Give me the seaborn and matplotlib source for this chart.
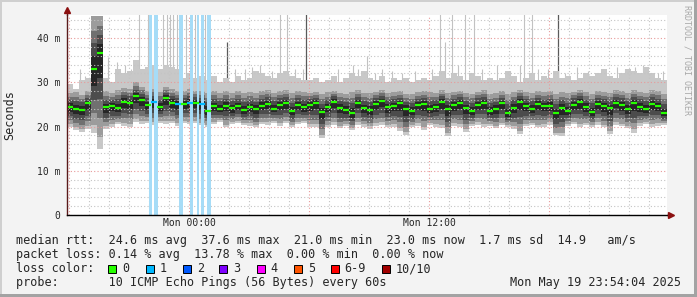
import numpy as np
import pandas as pd
import matplotlib
matplotlib.use("Agg")
import matplotlib.pyplot as plt
import matplotlib.dates as mdates
from matplotlib.patches import Rectangle
from matplotlib.ticker import MultipleLocator, FixedLocator, FuncFormatter
import seaborn as sns

# ---------------- data ----------------
start_time = "2025-05-18 17:54"
step_minutes = 18

median_ms = [24.5, 24.0, 23.8, 25.2, 33.0, 36.5, 24.3, 24.6, 24.2, 25.6, 25.3, 26.8, 26.0, 24.8, 25.6, 24.5, 26.4, 25.4, 25.0, 25.1,
             25.4, 25.3, 25.0, 23.6, 24.6, 24.0, 24.7, 24.1, 24.6, 23.8, 24.3, 23.9, 24.7, 25.1, 24.0, 24.9, 25.2, 23.4, 24.8, 24.3,
             24.8, 25.3, 23.2, 24.4, 25.6, 24.2, 23.7, 23.0, 25.4, 24.1, 23.8, 25.0, 25.7, 24.3, 24.6, 25.2, 24.0, 23.6, 24.9, 25.1,
             24.0, 24.4, 25.5, 24.0, 24.8, 25.3, 24.1, 23.6, 24.9, 25.4, 23.5, 23.9, 25.2, 23.0, 24.2, 25.6, 24.6, 24.0, 25.1, 24.6,
             24.7, 23.0, 24.2, 23.5, 24.9, 25.5, 24.4, 23.3, 25.0, 24.6, 24.1, 25.4, 24.8, 24.0, 25.2, 24.5, 23.9, 25.1, 24.6, 23.0]

min_ms = [20.0, 19.2, 18.8, 19.5, 18.5, 15.0, 19.5, 20.0, 20.5, 20.2, 20.0, 21.0, 20.6, 20.8, 20.3, 20.9, 20.5, 20.8, 20.2, 20.7,
          20.5, 20.8, 20.3, 20.0, 20.6, 21.0, 19.8, 20.5, 20.9, 20.4, 20.2, 19.8, 20.6, 20.4, 20.9, 20.2, 20.7, 19.9, 20.5, 20.8,
          20.0, 19.8, 17.5, 19.9, 20.3, 19.6, 20.1, 19.2, 20.4, 20.0, 19.5, 20.2, 20.3, 19.8, 20.0, 19.0, 18.0, 19.8, 20.2, 19.3,
          20.3, 20.0, 19.7, 17.8, 20.2, 19.8, 18.8, 20.1, 20.4, 19.9, 20.2, 19.6, 20.3, 20.0, 19.5, 18.2, 20.1, 20.4, 19.8, 20.0,
          20.4, 18.0, 17.8, 20.2, 20.5, 19.9, 20.3, 20.0, 20.4, 19.8, 18.2, 20.3, 20.1, 19.7, 18.6, 20.2, 20.5, 19.9, 20.2, 20.4]

upper_ms = [27.5, 27.8, 27.2, 28.0, 45.0, 45.0, 28.0, 27.5, 28.2, 28.8, 28.5, 30.0, 29.0, 28.0, 28.5, 27.8, 29.0, 28.5, 28.0, 28.0,
            28.5, 28.0, 28.0, 27.5, 28.0, 27.5, 28.0, 27.5, 28.0, 27.6, 27.8, 27.5, 28.0, 28.2, 27.6, 28.0, 28.2, 27.5, 28.0, 27.8,
            27.6, 27.9, 27.3, 27.7, 28.1, 27.5, 27.4, 27.8, 28.2, 27.6, 27.5, 27.9, 28.3, 27.6, 27.8, 28.0, 27.4, 27.3, 27.8, 28.0,
            27.7, 27.6, 28.2, 27.5, 27.9, 28.1, 27.6, 27.4, 27.9, 28.2, 27.4, 27.5, 28.0, 27.3, 27.7, 28.3, 27.8, 27.5, 28.0, 27.7,
            28.0, 27.4, 27.7, 27.5, 27.9, 28.3, 27.8, 27.4, 28.1, 27.8, 27.6, 28.2, 28.0, 27.5, 28.2, 27.9, 27.6, 28.3, 28.0, 27.4]

max_ms = [29.5, 28.5, 30.5, 31.0, 45.0, 45.0, 31.0, 30.0, 33.0, 32.0, 32.5, 35.0, 33.0, 33.5, 34.0, 33.0, 34.0, 33.5, 33.0, 31.0,
          32.0, 31.0, 31.5, 30.5, 31.5, 30.0, 31.0, 30.0, 31.5, 30.5, 31.0, 32.5, 32.0, 31.5, 31.0, 32.0, 32.5, 31.5, 31.0, 30.5,
          30.5, 31.0, 30.0, 30.5, 31.5, 30.0, 31.0, 32.0, 31.5, 32.5, 31.0, 30.5, 31.5, 30.0, 31.0, 30.5, 31.0, 30.0, 30.5, 31.0,
          30.5, 31.5, 32.5, 31.0, 32.0, 31.5, 30.5, 32.0, 31.5, 30.5, 31.0, 30.5, 31.0, 32.5, 31.5, 30.0, 31.0, 32.0, 30.5, 31.5,
          31.0, 32.5, 31.0, 31.5, 30.5, 31.0, 32.0, 31.5, 32.0, 33.0, 31.5, 31.0, 32.0, 33.0, 32.5, 32.0, 33.5, 32.0, 31.0, 30.5]

median_loss = [0, 0, 0, 0, 0, 0, 0, 0, 0, 0, 0, 0, 0, 0, 1, 0, 0, 0, 1, 0,
               1, 0, 1, 0, 0, 0, 0, 0, 0, 0, 0, 0, 0, 0, 0, 0, 0, 0, 0, 0,
               0, 0, 0, 0, 0, 0, 0, 0, 0, 0, 0, 0, 0, 0, 0, 0, 0, 0, 0, 0,
               0, 0, 0, 0, 0, 0, 0, 0, 0, 0, 0, 0, 0, 0, 0, 0, 0, 0, 0, 0,
               0, 0, 0, 0, 0, 0, 0, 0, 0, 0, 0, 0, 0, 0, 0, 0, 0, 0, 0, 0]

spike_times = ["2025-05-18 18:33", "2025-05-18 18:48", "2025-05-18 19:57", "2025-05-18 20:24",
               "2025-05-18 20:48", "2025-05-18 21:06", "2025-05-18 21:30", "2025-05-18 21:57",
               "2025-05-18 22:42", "2025-05-18 22:54", "2025-05-18 23:03", "2025-05-18 23:12",
               "2025-05-18 23:24", "2025-05-18 23:51", "2025-05-19 00:18", "2025-05-19 00:48",
               "2025-05-19 02:18", "2025-05-19 02:48", "2025-05-19 03:09", "2025-05-19 03:33",
               "2025-05-19 04:09", "2025-05-19 04:33", "2025-05-19 04:54", "2025-05-19 05:18",
               "2025-05-19 05:42", "2025-05-19 07:27", "2025-05-19 08:12", "2025-05-19 08:27",
               "2025-05-19 08:39", "2025-05-19 08:54", "2025-05-19 09:18", "2025-05-19 09:39",
               "2025-05-19 10:09", "2025-05-19 10:39", "2025-05-19 11:18", "2025-05-19 12:09",
               "2025-05-19 12:33", "2025-05-19 12:48", "2025-05-19 13:09", "2025-05-19 13:27",
               "2025-05-19 13:48", "2025-05-19 14:15", "2025-05-19 14:39", "2025-05-19 15:24",
               "2025-05-19 16:03", "2025-05-19 16:33", "2025-05-19 16:45", "2025-05-19 17:09",
               "2025-05-19 17:27", "2025-05-19 17:57", "2025-05-19 18:48", "2025-05-19 19:24",
               "2025-05-19 19:57", "2025-05-19 20:42", "2025-05-19 21:24", "2025-05-19 21:48",
               "2025-05-19 22:18", "2025-05-19 22:42", "2025-05-19 22:57", "2025-05-19 23:27",
               "2025-05-19 23:42"]
spike_ms = [33, 31.5, 35.7, 34.6, 34, 33, 46, 46,
            46, 46, 46, 46, 46, 46, 46, 46,
            33, 33, 33.5, 34, 32.5, 46, 46, 33,
            33, 33, 34, 33, 32, 36, 32, 33,
            32.5, 32, 32.5, 33, 46, 39, 46, 34,
            46, 46, 33, 34, 32.5, 34, 46, 46,
            33, 33, 32, 33.5, 32.5, 33, 33.5, 33,
            33.5, 34, 33, 32, 32.5]
dark_spike_times = ["2025-05-19 00:06", "2025-05-19 01:54", "2025-05-19 05:51", "2025-05-19 18:27"]
dark_spike_ms = [38, 39, 46, 46]

loss_times = ["2025-05-18 22:00", "2025-05-18 22:15", "2025-05-18 23:30", "2025-05-19 00:03",
              "2025-05-19 00:24", "2025-05-19 00:36", "2025-05-19 00:54"]
loss_minutes = [9, 12, 12, 9, 6, 9, 12]

y_ticks = [0, 10, 20, 30, 40]
y_tick_labels = ["0", "10 m", "20 m", "30 m", "40 m"]

loss_legend_labels = ["0", "1", "2", "3", "4", "5", "6-9", "10/10"]
loss_legend_colors = ["#26ff00", "#00b8ff", "#0059ff", "#7e00ff", "#ff00ff", "#ff5500", "#ff0000", "#a10000"]

line_rtt = "median rtt:  24.6 ms avg  37.6 ms max  21.0 ms min  23.0 ms now  1.7 ms sd  14.9   am/s"
line_loss = "packet loss: 0.14 % avg  13.78 % max  0.00 % min  0.00 % now"
line_probe = "probe:       10 ICMP Echo Pings (56 Bytes) every 60s"
stamp = "Mon May 19 23:54:04 2025"

# ---------------- figure ----------------
sns.set_style("white")
plt.rcParams["font.family"] = ["DejaVu Sans Mono", "DejaVu Sans"]

W, H = 697, 297
fig = plt.figure(figsize=(W / 100, H / 100), dpi=100, facecolor="#f3f3f3")


def fx(x):
    return x / W


def fy(y):
    return 1 - y / H


ax = fig.add_axes([fx(67), fy(215), 600 / W, 200 / H])
ax.set_facecolor("white")

times = pd.date_range(start_time, periods=len(median_ms), freq=f"{step_minutes}min")
t0 = mdates.date2num(times)
wd = step_minutes / 1440.0
t_edges = np.append(t0, t0[-1] + wd)

med = np.array(median_ms)
mn = np.array(min_ms)
up = np.array(upper_ms)
mx = np.array(max_ms)

# single-ping spikes drawn behind the smoke
ax.vlines(mdates.date2num(pd.to_datetime(spike_times)), 22, spike_ms, color="#c2c2c2", lw=0.8, zorder=1.5)
ax.vlines(mdates.date2num(pd.to_datetime(dark_spike_times)), 22, dark_spike_ms, color="#5a5a5a", lw=0.9, zorder=1.6)

# smoke layers
layers = [(1.0, None, "#c8c8c8"), (0.88, 1.0, "#9c9c9c"), (0.68, 0.72, "#707070"),
          (0.48, 0.48, "#4c4c4c"), (0.26, 0.24, "#262626")]
for k, (fl, fu, col) in enumerate(layers):
    lo = med - (med - mn) * fl
    hi = mx if fu is None else med + (up - med) * fu
    ax.fill_between(t_edges, np.append(lo, lo[-1]), np.append(hi, hi[-1]), step="post",
                    color=col, lw=0, zorder=2 + 0.01 * k)

# loss background
for t, m in zip(loss_times, loss_minutes):
    ts = mdates.date2num(pd.Timestamp(t))
    ax.axvspan(ts, ts + m / 1440.0, color="#a6dcf7", lw=0, zorder=3)

# median line coloured by loss
df = pd.DataFrame({"time": t0 + wd / 2, "ms": median_ms, "loss": [str(v) for v in median_loss]})
sns.scatterplot(data=df, x="time", y="ms", hue="loss", palette={"0": "#26ff00", "1": "#00b8ff"},
                marker="_", s=19, linewidth=1.6, legend=False, ax=ax, zorder=5)
ax.set_xlabel("")
ax.set_ylabel("")

# axes
ax.set_xlim(t_edges[0], t_edges[-1])
ax.set_ylim(0, 45.2)
ax.yaxis.set_major_locator(FixedLocator(y_ticks))
ax.set_yticklabels(y_tick_labels)
ax.yaxis.set_minor_locator(MultipleLocator(2))
ax.xaxis.set_major_locator(mdates.HourLocator(byhour=[0, 6, 12, 18]))
ax.xaxis.set_minor_locator(mdates.HourLocator())


def xfmt(v, pos):
    d = mdates.num2date(v)
    return d.strftime("%a %H:%M") if d.hour in (0, 12) else ""


ax.xaxis.set_major_formatter(FuncFormatter(xfmt))
ax.set_axisbelow(False)
dots = (0, (1, 2))
ax.grid(which="major", color="#e89a9a", ls=dots, lw=0.8)
ax.grid(which="minor", color="#c4c4c4", ls=dots, lw=0.8)
ax.tick_params(which="both", length=0)
ax.tick_params(axis="y", labelsize=7, pad=5)
ax.tick_params(axis="x", labelsize=7, pad=2.5)

for s in ("top", "right"):
    ax.spines[s].set_visible(False)
ax.spines["left"].set_color("#5a1a1a")
ax.spines["left"].set_linewidth(1)
ax.spines["bottom"].set_color("#000000")
ax.spines["bottom"].set_linewidth(1)
ax.spines["left"].set_zorder(6)
ax.spines["bottom"].set_zorder(6)
ax.plot([0, 0], [1, 1.025], color="#5a1a1a", lw=1, transform=ax.transAxes, clip_on=False, zorder=6)
ax.plot([1, 1.004], [0, 0], color="#000000", lw=1, transform=ax.transAxes, clip_on=False, zorder=6)
ax.plot([0], [1.027], marker="^", ms=4.5, color="#8b1010", transform=ax.transAxes, clip_on=False, zorder=7)
ax.plot([1.007], [0], marker=">", ms=4.5, color="#8b1010", transform=ax.transAxes, clip_on=False, zorder=7)

# side texts
FS = 8.45
fig.text(fx(10), fy(115), "Seconds", rotation=90, ha="center", va="center", fontsize=FS)
fig.text(fx(687), fy(5), "RRDTOOL / TOBI OETIKER", rotation=270, ha="center", va="top",
         fontsize=6, color="#a8a8a8")

# legend lines
X0 = 15.5
fig.text(fx(X0), fy(244.3), line_rtt, fontsize=FS, ha="left", va="baseline")
fig.text(fx(X0), fy(258.3), line_loss, fontsize=FS, ha="left", va="baseline")
fig.text(fx(X0), fy(272.3), "loss color:", fontsize=FS, ha="left", va="baseline")
fig.text(fx(X0), fy(286), line_probe, fontsize=FS, ha="left", va="baseline")
fig.text(fx(681), fy(286), stamp, fontsize=FS, ha="right", va="baseline")

box_x = [108, 145.7, 182.7, 219.3, 256.7, 294, 330.7, 381.7]
for bx, lab, col in zip(box_x, loss_legend_labels, loss_legend_colors):
    fig.add_artist(Rectangle((fx(bx), fy(273)), 8 / W, 8 / H, transform=fig.transFigure,
                             facecolor=col, edgecolor="#000000", lw=0.7))
    fig.text(fx(bx + 14), fy(272.3), lab, fontsize=FS, ha="left", va="baseline")

# frame
fig.add_artist(Rectangle((0, fy(2)), 1, 2 / H, transform=fig.transFigure, color="#cfcfcf", lw=0))
fig.add_artist(Rectangle((0, 0), 2 / W, 1, transform=fig.transFigure, color="#cfcfcf", lw=0))
fig.add_artist(Rectangle((0, 0), 1, 3 / H, transform=fig.transFigure, color="#a3a3a3", lw=0))
fig.add_artist(Rectangle((fx(694), 0), 3 / W, 1, transform=fig.transFigure, color="#a3a3a3", lw=0))

fig.savefig("out.png", dpi=100, facecolor=fig.get_facecolor())
